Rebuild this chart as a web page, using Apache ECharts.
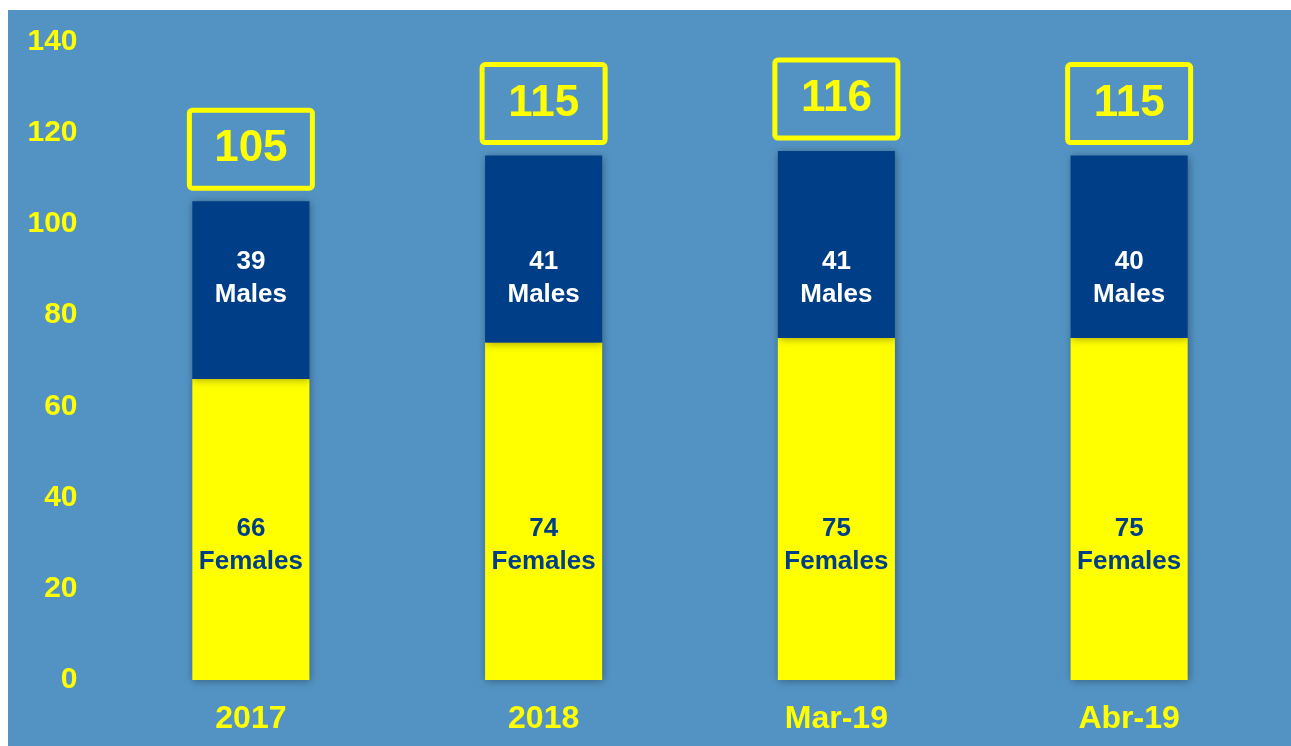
<!DOCTYPE html>
<html>
<head>
<meta charset="utf-8">
<script src="https://cdn.jsdelivr.net/npm/echarts@6/dist/echarts.min.js"></script>
<style>
  html, body { margin: 0; padding: 0; background: #ffffff; }
  #chart { position: absolute; left: 8px; top: 10px; width: 1283px; height: 736px; }
</style>
</head>
<body>
<div id="chart"></div>
<script>
var categories = ['2017', '2018', 'Mar-19', 'Abr-19'];
var females = [66, 74, 75, 75];
var males = [39, 41, 41, 40];
var totals = [105, 115, 116, 115];
var yMin = 0, yMax = 140, yStep = 20;

(function() {
    var el = document.getElementById('chart');
    var chart = echarts.init(el, null, { renderer: 'canvas' });

    var bg = '#5393c3';
    var navy = '#003f87';
    var yellow = '#ffff00';
    var font = 'Liberation Sans, Arial, sans-serif';

    // labels in the original sit at a fixed height, not at the middle of each segment
    var maleLabelAt = 88.1;
    var femaleLabelAt = 29.6;

    var shadow = {
        shadowBlur: 8,
        shadowColor: 'rgba(0, 0, 0, 0.35)',
        shadowOffsetX: 1,
        shadowOffsetY: 1
    };

    function baseOption() {
        return {
            backgroundColor: bg,
            animation: false,
            grid: { left: 96.5, right: 15.5, top: 31.6, bottom: 66 },
            xAxis: {
                type: 'category',
                data: categories,
                axisLine: { show: false },
                axisTick: { show: false },
                axisLabel: { color: yellow, fontSize: 32, fontWeight: 'bold', fontFamily: font, margin: 23 }
            },
            yAxis: {
                type: 'value',
                min: yMin,
                max: yMax,
                interval: yStep,
                axisLine: { show: false },
                axisTick: { show: false },
                splitLine: { show: false },
                axisLabel: { color: yellow, fontSize: 30, fontWeight: 'bold', fontFamily: font, margin: 27 }
            },
            series: [
                {
                    name: 'Females',
                    type: 'bar',
                    stack: 'total',
                    barWidth: '40%',
                    itemStyle: Object.assign({ color: yellow }, shadow),
                    label: {
                        show: true,
                        position: 'inside',
                        color: navy,
                        fontSize: 26,
                        fontWeight: 'bold',
                        fontFamily: font,
                        lineHeight: 33,
                        formatter: function(p) { return p.value + '\nFemales'; }
                    },
                    data: females.slice()
                },
                {
                    name: 'Males',
                    type: 'bar',
                    stack: 'total',
                    barWidth: '40%',
                    itemStyle: Object.assign({ color: navy }, shadow),
                    label: {
                        show: true,
                        position: 'inside',
                        color: '#ffffff',
                        fontSize: 26,
                        fontWeight: 'bold',
                        fontFamily: font,
                        lineHeight: 33,
                        formatter: function(p) { return p.value + '\nMales'; }
                    },
                    data: males.slice()
                },
                {
                    name: 'Total',
                    type: 'scatter',
                    symbolSize: 0,
                    silent: true,
                    itemStyle: { opacity: 1 },
                    label: {
                        show: true,
                        position: 'top',
                        distance: 13,
                        color: yellow,
                        fontSize: 44,
                        fontWeight: 'bold',
                        fontFamily: font,
                        width: 123,
                        height: 78,
                        lineHeight: 78,
                        align: 'center',
                        borderColor: yellow,
                        borderWidth: 5,
                        borderRadius: 3,
                        formatter: function(p) { return String(p.value[1]); }
                    },
                    data: totals.map(function(v, i) { return [categories[i], v]; })
                }
            ]
        };
    }

    chart.setOption(baseOption());

    // shift the segment labels to the fixed heights, using the axis scale
    function offsetFor(i, lo, hi, at) {
        var mid = chart.convertToPixel({ gridIndex: 0 }, [categories[i], (lo + hi) / 2])[1];
        var target = chart.convertToPixel({ gridIndex: 0 }, [categories[i], at])[1];
        return [0, target - mid];
    }

    var opt = baseOption();
    opt.series[0].data = females.map(function(v, i) {
        return { value: v, label: { offset: offsetFor(i, 0, v, femaleLabelAt) } };
    });
    opt.series[1].data = males.map(function(v, i) {
        return { value: v, label: { offset: offsetFor(i, females[i], females[i] + v, maleLabelAt) } };
    });
    chart.setOption(opt);

    window.addEventListener('resize', function() { chart.resize(); });
})();
</script>
</body>
</html>
